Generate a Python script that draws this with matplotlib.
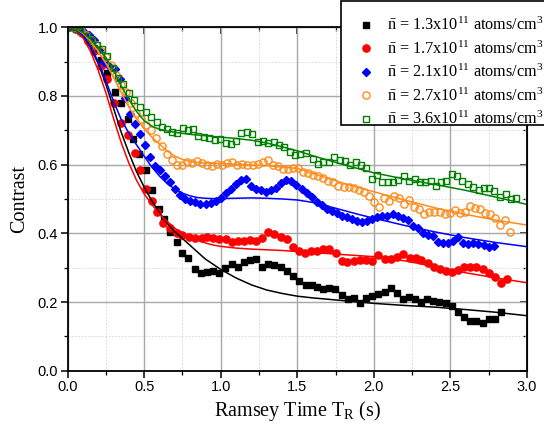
import matplotlib
matplotlib.use("Agg")
import matplotlib.pyplot as plt
from matplotlib.patches import Rectangle
from matplotlib.ticker import MultipleLocator

plt.rcParams["mathtext.fontset"] = "custom"
plt.rcParams["mathtext.rm"] = "Liberation Serif"
plt.rcParams["mathtext.it"] = "Liberation Serif"

t_black = [0.016, 0.056, 0.096, 0.136, 0.176, 0.216, 0.256,
           0.31, 0.347, 0.397, 0.429, 0.468, 0.512, 0.553, 0.595, 0.63,
           0.671, 0.712, 0.749, 0.788, 0.832, 0.871, 0.912, 0.951, 0.99,
           1.029, 1.071, 1.11, 1.151, 1.19, 1.23, 1.269, 1.31, 1.349, 1.391,
           1.43, 1.473, 1.51, 1.554, 1.595, 1.632, 1.669, 1.708, 1.745, 1.791,
           1.832, 1.871, 1.91, 1.952, 1.988, 2.03, 2.071, 2.11, 2.151, 2.19,
           2.23, 2.267, 2.31, 2.35, 2.386, 2.425, 2.469, 2.51, 2.549, 2.588,
           2.63, 2.669, 2.712, 2.75, 2.793, 2.832]
c_black = [1.0, 0.995, 0.985, 0.965, 0.94, 0.905, 0.868,
           0.812, 0.778, 0.733, 0.674, 0.63, 0.584, 0.526, 0.47, 0.441,
           0.403, 0.374, 0.344, 0.327, 0.295, 0.285, 0.288, 0.29, 0.284,
           0.298, 0.311, 0.303, 0.317, 0.322, 0.324, 0.303, 0.31, 0.308, 0.303,
           0.289, 0.277, 0.262, 0.249, 0.249, 0.245, 0.237, 0.242, 0.237, 0.22,
           0.209, 0.213, 0.196, 0.213, 0.217, 0.223, 0.229, 0.24, 0.227, 0.208,
           0.215, 0.209, 0.201, 0.209, 0.203, 0.201, 0.196, 0.189, 0.17, 0.157,
           0.146, 0.146, 0.138, 0.151, 0.151, 0.17]

t_red = [0.016, 0.056, 0.096, 0.136, 0.176, 0.216, 0.256,
         0.303, 0.347, 0.395, 0.44, 0.473, 0.512, 0.549, 0.582, 0.625,
         0.669, 0.712, 0.749, 0.793, 0.832, 0.875, 0.912, 0.951, 0.99,
         1.034, 1.071, 1.11, 1.151, 1.19, 1.23, 1.273, 1.31, 1.349, 1.391,
         1.43, 1.473, 1.51, 1.549, 1.593, 1.63, 1.669, 1.708, 1.751, 1.791,
         1.828, 1.869, 1.908, 1.947, 1.988, 2.03, 2.071, 2.11, 2.151, 2.19,
         2.234, 2.273, 2.31, 2.354, 2.393, 2.43, 2.469, 2.51, 2.549, 2.588,
         2.63, 2.669, 2.712, 2.751, 2.793, 2.832, 2.871]
c_red = [1.0, 0.995, 0.982, 0.96, 0.93, 0.887, 0.85,
         0.78, 0.722, 0.686, 0.633, 0.584, 0.53, 0.495, 0.463, 0.431,
         0.415, 0.4, 0.395, 0.388, 0.385, 0.385, 0.39, 0.387, 0.383,
         0.383, 0.374, 0.378, 0.378, 0.38, 0.378, 0.387, 0.403, 0.397, 0.388,
         0.383, 0.361, 0.348, 0.342, 0.348, 0.348, 0.355, 0.354, 0.344, 0.319,
         0.316, 0.319, 0.322, 0.322, 0.32, 0.337, 0.325, 0.325, 0.332, 0.339,
         0.329, 0.327, 0.322, 0.313, 0.303, 0.296, 0.291, 0.288, 0.293, 0.303,
         0.303, 0.303, 0.296, 0.284, 0.274, 0.254, 0.266]

t_blue = [0.01, 0.043, 0.076, 0.109, 0.142, 0.175, 0.208, 0.241, 0.274, 0.307,
          0.34, 0.373, 0.406, 0.439, 0.472, 0.505, 0.538, 0.571, 0.604, 0.637,
          0.67, 0.703, 0.736, 0.769, 0.802, 0.835, 0.868, 0.901, 0.934, 0.967,
          1.0, 1.033, 1.066, 1.099, 1.132, 1.165, 1.198, 1.231, 1.264, 1.297,
          1.33, 1.363, 1.396, 1.429, 1.462, 1.495, 1.528, 1.561, 1.594, 1.627,
          1.66, 1.693, 1.726, 1.759, 1.792, 1.825, 1.858, 1.891, 1.924, 1.957,
          1.99, 2.023, 2.056, 2.089, 2.122, 2.155, 2.188, 2.221, 2.254, 2.287,
          2.32, 2.353, 2.386, 2.419, 2.452, 2.485, 2.518, 2.551, 2.584, 2.617,
          2.65, 2.683, 2.716, 2.749, 2.782]
c_blue = [1.0, 0.998, 0.993, 0.986, 0.978, 0.962, 0.935, 0.9, 0.887, 0.877,
          0.85, 0.795, 0.746, 0.718, 0.688, 0.657, 0.622, 0.596, 0.584, 0.568,
          0.548, 0.528, 0.511, 0.5, 0.494, 0.49, 0.486, 0.484, 0.488, 0.495,
          0.504, 0.518, 0.53, 0.544, 0.554, 0.558, 0.538, 0.53, 0.526, 0.521,
          0.527, 0.531, 0.545, 0.554, 0.552, 0.541, 0.53, 0.518, 0.505, 0.492,
          0.482, 0.472, 0.465, 0.458, 0.451, 0.446, 0.441, 0.436, 0.434, 0.437,
          0.442, 0.446, 0.451, 0.45, 0.456, 0.449, 0.445, 0.44, 0.421, 0.416,
          0.401, 0.395, 0.392, 0.375, 0.373, 0.371, 0.378, 0.388, 0.371, 0.368,
          0.371, 0.37, 0.367, 0.36, 0.364]

t_orange = [0.02, 0.053, 0.086, 0.119, 0.152, 0.185, 0.218, 0.251, 0.284, 0.317,
            0.35, 0.383, 0.416, 0.449, 0.482, 0.515, 0.548, 0.581, 0.614, 0.647,
            0.68, 0.713, 0.746, 0.779, 0.812, 0.845, 0.878, 0.911, 0.944, 0.977,
            1.01, 1.043, 1.076, 1.109, 1.142, 1.175, 1.208, 1.241, 1.274, 1.307,
            1.34, 1.373, 1.406, 1.439, 1.472, 1.505, 1.538, 1.571, 1.604, 1.637,
            1.67, 1.703, 1.736, 1.769, 1.802, 1.835, 1.868, 1.901, 1.934, 1.967,
            2.0, 2.033, 2.066, 2.099, 2.132, 2.165, 2.198, 2.231, 2.264, 2.297,
            2.33, 2.363, 2.396, 2.429, 2.462, 2.495, 2.528, 2.561, 2.594, 2.627,
            2.66, 2.693, 2.726, 2.759, 2.792, 2.825, 2.858, 2.891]
c_orange = [1.0, 0.997, 0.99, 0.978, 0.962, 0.948, 0.93, 0.913, 0.89, 0.86,
            0.832, 0.81, 0.778, 0.75, 0.732, 0.715, 0.7, 0.678, 0.655, 0.632,
            0.614, 0.6, 0.598, 0.607, 0.604, 0.611, 0.604, 0.599, 0.596, 0.603,
            0.6, 0.604, 0.607, 0.6, 0.601, 0.6, 0.6, 0.603, 0.607, 0.612,
            0.6, 0.595, 0.587, 0.587, 0.589, 0.589, 0.578, 0.575, 0.57, 0.566,
            0.56, 0.553, 0.55, 0.538, 0.535, 0.534, 0.533, 0.527, 0.521, 0.509,
            0.49, 0.478, 0.504, 0.493, 0.509, 0.502, 0.486, 0.497, 0.478, 0.47,
            0.455, 0.462, 0.463, 0.461, 0.457, 0.46, 0.469, 0.458, 0.463, 0.479,
            0.473, 0.47, 0.46, 0.456, 0.445, 0.424, 0.439, 0.403]

t_green = [0.02, 0.053, 0.082, 0.125, 0.151, 0.19, 0.227, 0.26, 0.295, 0.332,
           0.364, 0.401, 0.436, 0.473, 0.51, 0.543, 0.582, 0.614, 0.647, 0.684,
           0.716, 0.751, 0.788, 0.821, 0.853, 0.89, 0.925, 0.962, 0.995, 1.032,
           1.067, 1.099, 1.136, 1.169, 1.202, 1.245, 1.277, 1.31, 1.347, 1.382,
           1.414, 1.451, 1.484, 1.521, 1.556, 1.6, 1.636, 1.669, 1.706, 1.738,
           1.778, 1.81, 1.847, 1.882, 1.919, 1.952, 1.988, 2.021, 2.056, 2.093,
           2.125, 2.158, 2.195, 2.23, 2.267, 2.304, 2.337, 2.371, 2.404, 2.436,
           2.473, 2.51, 2.543, 2.578, 2.615, 2.647, 2.684, 2.719, 2.752, 2.784,
           2.821, 2.86, 2.898, 2.93]
c_green = [1.0, 0.996, 0.988, 0.974, 0.962, 0.949, 0.937, 0.915, 0.88, 0.851,
           0.834, 0.809, 0.788, 0.767, 0.752, 0.738, 0.725, 0.709, 0.703, 0.696,
           0.693, 0.706, 0.701, 0.704, 0.684, 0.681, 0.677, 0.672, 0.675, 0.662,
           0.659, 0.669, 0.693, 0.696, 0.688, 0.665, 0.67, 0.664, 0.667, 0.657,
           0.652, 0.638, 0.628, 0.631, 0.633, 0.615, 0.601, 0.608, 0.608, 0.621,
           0.613, 0.61, 0.599, 0.607, 0.599, 0.589, 0.558, 0.57, 0.548, 0.548,
           0.55, 0.555, 0.567, 0.552, 0.558, 0.548, 0.55, 0.553, 0.539, 0.55,
           0.552, 0.573, 0.567, 0.552, 0.543, 0.536, 0.526, 0.531, 0.531, 0.524,
           0.507, 0.514, 0.499, 0.502]

# fitted curves, read at these times
t_fit = [0, 0.05, 0.1, 0.15, 0.2, 0.25, 0.3, 0.35, 0.4, 0.45, 0.5, 0.55,
         0.6, 0.65, 0.7, 0.75, 0.8, 0.85, 0.9, 0.95, 1.0, 1.1, 1.2, 1.3,
         1.4, 1.5, 1.6, 1.7, 1.8, 1.9, 2.0, 2.2, 2.4, 2.6, 2.8, 3.0]
fit_black = [1.0, 0.995, 0.975, 0.94, 0.895, 0.835, 0.765, 0.695, 0.635, 0.58, 0.535, 0.495,
             0.46, 0.43, 0.405, 0.385, 0.365, 0.345, 0.325, 0.31, 0.295, 0.27, 0.25, 0.235,
             0.225, 0.217, 0.212, 0.208, 0.204, 0.2, 0.196, 0.19, 0.185, 0.178, 0.17, 0.16]
fit_red = [1.0, 0.993, 0.97, 0.93, 0.875, 0.81, 0.735, 0.665, 0.605, 0.555, 0.515, 0.485,
           0.455, 0.435, 0.415, 0.4, 0.39, 0.38, 0.372, 0.366, 0.362, 0.357, 0.354, 0.352,
           0.35, 0.347, 0.344, 0.341, 0.338, 0.335, 0.332, 0.32, 0.303, 0.285, 0.27, 0.256]
fit_blue = [1.0, 0.995, 0.977, 0.945, 0.9, 0.845, 0.785, 0.732, 0.692, 0.658, 0.625, 0.593,
            0.567, 0.545, 0.529, 0.517, 0.509, 0.504, 0.502, 0.501, 0.501, 0.502, 0.503, 0.502,
            0.5, 0.497, 0.49, 0.479, 0.467, 0.455, 0.444, 0.423, 0.404, 0.387, 0.373, 0.361]
fit_orange = [1.0, 0.996, 0.982, 0.96, 0.93, 0.895, 0.855, 0.81, 0.768, 0.733, 0.705, 0.68,
              0.66, 0.64, 0.625, 0.615, 0.609, 0.606, 0.605, 0.604, 0.603, 0.601, 0.599, 0.597,
              0.593, 0.589, 0.575, 0.56, 0.546, 0.533, 0.521, 0.497, 0.474, 0.455, 0.438, 0.424]
fit_green = [1.0, 0.996, 0.985, 0.965, 0.94, 0.912, 0.875, 0.83, 0.79, 0.755, 0.728, 0.712,
             0.703, 0.698, 0.694, 0.691, 0.688, 0.686, 0.684, 0.682, 0.68, 0.676, 0.671, 0.663,
             0.652, 0.64, 0.626, 0.613, 0.6, 0.588, 0.576, 0.558, 0.542, 0.525, 0.505, 0.484]

densities = ["1.3", "1.7", "2.1", "2.7", "3.6"]
orange = "#ff8c1a"
green = "#008000"

fig = plt.figure(figsize=(5.44, 4.30), dpi=100)
ax = fig.add_axes([67.5 / 544, 1 - 370.7 / 430, 459.5 / 544, 343.5 / 430])

labels = [r"$\bar{\mathrm{n}}$ = " + d + r"x10$^{11}$ atoms/cm$^{3}$" for d in densities]

h1, = ax.plot(t_black, c_black, "s", color="black", ms=4.3, ls="none", label=labels[0])
h2, = ax.plot(t_red, c_red, "o", color="red", ms=5.2, ls="none", label=labels[1])
h3, = ax.plot(t_blue, c_blue, "D", color="blue", ms=4.3, ls="none", label=labels[2])
h4, = ax.plot(t_orange, c_orange, "o", mfc="none", mec=orange, mew=1.0, ms=5.2,
              ls="none", label=labels[3])
h5, = ax.plot(t_green, c_green, "s", mfc="none", mec=green, mew=1.0, ms=4.6,
              ls="none", label=labels[4])

ax.plot(t_fit, fit_black, color="black", lw=1.1)
ax.plot(t_fit, fit_red, color="red", lw=1.1)
ax.plot(t_fit, fit_blue, color="blue", lw=1.1)
ax.plot(t_fit, fit_orange, color=orange, lw=1.1)
ax.plot(t_fit, fit_green, color=green, lw=1.1)

ax.set_xlim(0, 3.0)
ax.set_ylim(0, 1.0)
ax.xaxis.set_major_locator(MultipleLocator(0.5))
ax.xaxis.set_minor_locator(MultipleLocator(0.25))
ax.yaxis.set_major_locator(MultipleLocator(0.2))
ax.yaxis.set_minor_locator(MultipleLocator(0.1))
ax.xaxis.set_major_formatter(plt.FormatStrFormatter("%.1f"))
ax.yaxis.set_major_formatter(plt.FormatStrFormatter("%.1f"))

ax.set_axisbelow(True)
ax.grid(which="major", color="#a8a8a8", lw=1.0, ls="-")
ax.grid(which="minor", color="#d2d2d2", lw=0.6, ls=(0, (2, 2)))

for s in ax.spines.values():
    s.set_linewidth(1.3)
ax.tick_params(which="major", direction="out", length=5, width=1.1,
               labelsize=10.5, pad=2)
ax.tick_params(which="minor", direction="out", length=3, width=0.9)
for lab in ax.get_xticklabels() + ax.get_yticklabels():
    lab.set_family("Liberation Sans")

# inward ticks on top and right
top = ax.secondary_xaxis("top")
top.xaxis.set_major_locator(MultipleLocator(0.5))
top.xaxis.set_minor_locator(MultipleLocator(0.25))
top.tick_params(which="major", direction="in", length=5, width=1.1, labeltop=False)
top.tick_params(which="minor", direction="in", length=3, width=0.9)
right = ax.secondary_yaxis("right")
right.yaxis.set_major_locator(MultipleLocator(0.2))
right.yaxis.set_minor_locator(MultipleLocator(0.1))
right.tick_params(which="major", direction="in", length=5, width=1.1, labelright=False)
right.tick_params(which="minor", direction="in", length=3, width=0.9)

ax.set_xlabel(r"Ramsey Time T$_{\mathrm{R}}$ (s)", family="Liberation Serif",
              fontsize=14.5, labelpad=3)
ax.set_ylabel("Contrast", family="Liberation Serif", fontsize=14.5, labelpad=6)

# legend frame drawn on its own so it can run off the right edge
fig.patches.append(Rectangle((341 / 544, 1 - 125 / 430), 0.5, 124 / 430,
                             transform=fig.transFigure, facecolor="white",
                             edgecolor="black", lw=1.2, zorder=2))
leg = fig.legend(handles=[h1, h2, h3, h4, h5], loc="upper left",
                 bbox_to_anchor=(356 / 544, 1 - 17 / 430), frameon=False,
                 prop={"family": "Liberation Serif", "size": 11.7},
                 handlelength=1.2, handletextpad=0.7, labelspacing=0.38,
                 borderpad=0, borderaxespad=0)
leg.set_zorder(3)

fig.savefig("out.png", dpi=100)
